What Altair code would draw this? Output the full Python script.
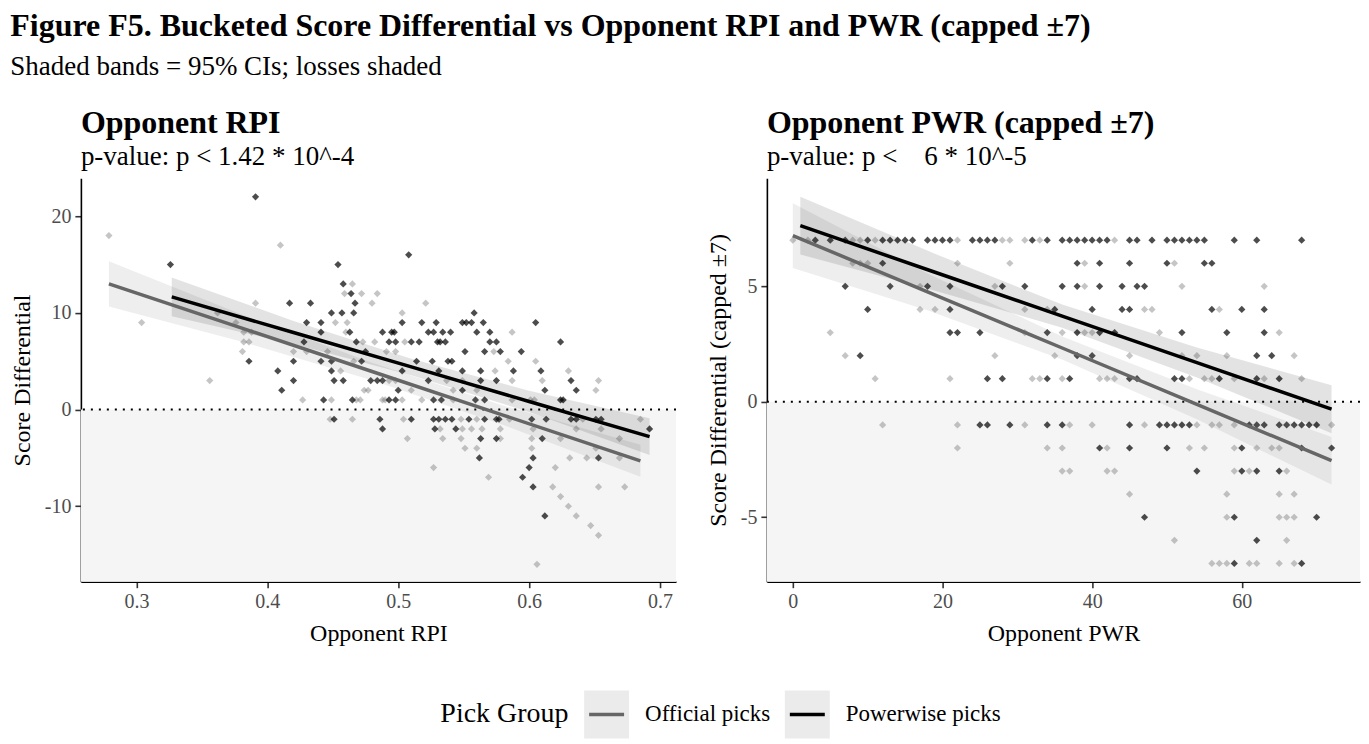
import altair as alt
import pandas as pd

FONT = "Liberation Serif"
GROUPS = ["Official picks", "Powerwise picks"]
LINE_COLORS = ["#666666", "#000000"]

# ---------------- Left panel: Opponent RPI ----------------
rpi_official = [
    (0.279, 18), (0.410, 17), (0.465, 13), (0.459, 12), (0.472, 12), (0.484, 12), (0.480, 11), (0.391, 11),
    (0.521, 11), (0.362, 10), (0.503, 10), (0.304, 9), (0.452, 9), (0.461, 9), (0.376, 9), (0.460, 8),
    (0.382, 8), (0.388, 8), (0.587, 8), (0.382, 7), (0.386, 7), (0.473, 7), (0.482, 7), (0.505, 7),
    (0.381, 6), (0.420, 6), (0.430, 6), (0.446, 6), (0.491, 6), (0.498, 6), (0.573, 6), (0.466, 5),
    (0.584, 5), (0.605, 5), (0.456, 4), (0.574, 4), (0.630, 4), (0.356, 3), (0.493, 3), (0.498, 3),
    (0.537, 3), (0.549, 3), (0.587, 3), (0.610, 3), (0.653, 3), (0.474, 2), (0.477, 2), (0.510, 2),
    (0.542, 2), (0.560, 2), (0.651, 2), (0.427, 1), (0.449, 1), (0.468, 1), (0.471, 1), (0.488, 1),
    (0.490, 1), (0.503, 1), (0.518, 1), (0.542, 1), (0.587, 1), (0.601, 1), (0.604, 1),
    (0.448, -1), (0.465, -1), (0.504, -1), (0.548, -1), (0.560, -1), (0.585, -1), (0.641, -1), (0.685, -1),
    (0.532, -2), (0.549, -2), (0.556, -2), (0.564, -2), (0.578, -2), (0.603, -2), (0.636, -2), (0.655, -2),
    (0.507, -3), (0.534, -3), (0.548, -3), (0.578, -3), (0.602, -3), (0.624, -3), (0.669, -3),
    (0.551, -4), (0.560, -4), (0.602, -4), (0.651, -4), (0.631, -5), (0.644, -5), (0.669, -5),
    (0.527, -6), (0.620, -6), (0.569, -7), (0.618, -8), (0.653, -8), (0.673, -8), (0.624, -9),
    (0.630, -10), (0.636, -11), (0.647, -12), (0.653, -13), (0.606, -16),
]
rpi_powerwise_rows = {
    22: [0.391], 16: [0.508], 15: [0.326, 0.454], 13: [0.458], 12: [0.464], 11: [0.467, 0.417, 0.433],
    10: [0.449, 0.457, 0.466, 0.558],
    9: [0.430, 0.441, 0.503, 0.518, 0.529, 0.549, 0.552, 0.556, 0.565, 0.605],
    8: [0.441, 0.463, 0.488, 0.495, 0.497, 0.523, 0.527, 0.534, 0.540, 0.560, 0.570],
    7: [0.428, 0.468, 0.493, 0.498, 0.510, 0.516, 0.530, 0.532, 0.536, 0.570, 0.575, 0.624],
    6: [0.475, 0.551, 0.566, 0.578, 0.594],
    5: [0.386, 0.420, 0.441, 0.449, 0.472, 0.514, 0.526, 0.538, 0.541],
    4: [0.408, 0.449, 0.503, 0.531, 0.549, 0.563, 0.588, 0.609],
    3: [0.420, 0.451, 0.458, 0.479, 0.484, 0.488, 0.523, 0.563, 0.575, 0.632],
    2: [0.411, 0.500, 0.549, 0.612, 0.636],
    1: [0.443, 0.465, 0.493, 0.498, 0.527, 0.533, 0.559, 0.566, 0.624, 0.626],
    -1: [0.451, 0.486, 0.510, 0.527, 0.531, 0.536, 0.541, 0.554, 0.566, 0.575, 0.577, 0.602, 0.613,
         0.632, 0.636, 0.651, 0.655],
    -2: [0.488, 0.528, 0.544, 0.692], -3: [0.563, 0.575, 0.610], -5: [0.562, 0.603, 0.653],
    -6: [0.600], -7: [0.595], -8: [0.603], -11: [0.612],
}
# fitted lines with 95% CI
rpi_off_x = [0.279, 0.380, 0.480, 0.580, 0.685]
rpi_off_fit = [13.0, 8.45, 3.94, -0.57, -5.3]
rpi_off_lo = [10.65, 7.05, 3.04, -1.57, -6.95]
rpi_off_hi = [15.35, 9.85, 4.84, 0.43, -3.65]
rpi_pw_x = [0.327, 0.420, 0.510, 0.600, 0.692]
rpi_pw_fit = [11.65, 7.97, 4.41, 0.84, -2.8]
rpi_pw_lo = [9.65, 6.77, 3.56, -0.26, -4.7]
rpi_pw_hi = [13.65, 9.17, 5.26, 1.94, -0.9]

# ---------------- Right panel: Opponent PWR (capped) ----------------
pwr_official_rows = {
    7: [0, 2, 8, 9, 11, 22, 28, 29, 31, 33, 43],
    6: [8, 9, 10, 22, 29, 39, 51],
    5: [17, 27, 39, 52, 63],
    4: [17, 19, 31, 34, 47, 48, 57],
    3: [5, 31, 36, 39, 40, 49, 65],
    2: [7, 27, 35, 45, 52, 54, 58, 67],
    1: [11, 21, 32, 33, 36, 41, 42, 43, 53, 55, 56, 59, 63, 68],
    -1: [12, 22, 31, 37, 40, 47, 54, 56, 57, 59, 72],
    -2: [22, 34, 36, 42, 53, 55, 59, 62, 64, 65],
    -3: [36, 37, 42, 43, 59, 61, 66],
    -4: [45, 58, 65, 67],
    -5: [58, 65, 66, 67],
    -6: [51, 66],
    -7: [56, 57, 58, 61, 62, 65, 67],
}
pwr_powerwise_rows = {
    7: [3, 5, 7, 10, 12, 13, 14, 15, 16, 18, 19, 20, 21, 24, 25, 26, 27, 32, 34, 36, 37, 38, 39, 40,
        41, 42, 45, 46, 48, 50, 51, 52, 53, 54, 55, 59, 62, 68],
    6: [12, 38, 41, 45, 50, 55, 56],
    5: [7, 13, 18, 21, 28, 31, 36, 38, 41, 44, 46, 47],
    4: [10, 21, 35, 40, 44, 45, 56, 60, 63],
    3: [21, 22, 25, 34, 38, 41, 43, 52, 58, 63],
    2: [9, 38, 40, 62, 64],
    1: [26, 28, 34, 37, 45, 46, 51, 52, 57, 62, 65],
    -1: [25, 26, 29, 34, 36, 45, 49, 50, 51, 52, 53, 61, 62, 63, 65, 66, 67, 68, 69, 70],
    -2: [41, 45, 50, 60, 68, 72],
    -3: [54, 60, 62, 65],
    -5: [47, 59, 70],
    -6: [62],
    -7: [59, 68],
}
pwr_off_x = [0, 18, 36, 54, 72]
pwr_off_fit = [7.2, 4.76, 2.33, -0.11, -2.55]
pwr_off_lo = [5.8, 3.96, 1.83, -0.76, -3.58]
pwr_off_hi = [8.6, 5.56, 2.83, 0.54, -1.52]
pwr_pw_x = [1, 19, 36, 54, 72]
pwr_pw_fit = [7.63, 5.61, 3.71, 1.70, -0.32]
pwr_pw_lo = [6.38, 4.81, 3.21, 1.05, -1.36]
pwr_pw_hi = [8.88, 6.41, 4.21, 2.35, 0.72]

rpi_x_domain = [0.2576, 0.7122]
rpi_y_domain = [-17.8, 23.92]
pwr_x_domain = [-3.47, 75.8]
pwr_y_domain = [-7.79, 9.68]


def points_df(official_pairs, powerwise_pairs):
    rows = [{"x": x, "y": y, "group": GROUPS[0]} for x, y in official_pairs]
    rows += [{"x": x, "y": y, "group": GROUPS[1]} for x, y in powerwise_pairs]
    return pd.DataFrame(rows)


def rows_to_pairs(rows):
    return [(x, y) for y, xs in rows.items() for x in xs]


def fit_df(off, pw):
    recs = []
    for g, (xs, f, lo, hi) in zip(GROUPS, [off, pw]):
        for i in range(len(xs)):
            recs.append({"x": xs[i], "fit": f[i], "lo": lo[i], "hi": hi[i], "group": g})
    return pd.DataFrame(recs)


color_scale = alt.Scale(domain=GROUPS, range=LINE_COLORS)


def panel(pts, fits, xdom, ydom, xvals, yvals, xtitle, ytitle, title, subtitle, xfmt, legend=False):
    xs = alt.Scale(domain=xdom, nice=False, zero=False)
    ys = alt.Scale(domain=ydom, nice=False, zero=False)
    xax = alt.Axis(values=xvals, title=xtitle, labelExpr=xfmt)
    yax = alt.Axis(values=yvals, title=ytitle, labelExpr="'' + datum.value")

    loss = alt.Chart(pd.DataFrame({"x0": [xdom[0]], "x1": [xdom[1]], "y0": [ydom[0]], "y1": [0]})).mark_rect(
        color="#f5f5f5"
    ).encode(
        x=alt.X("x0:Q", scale=xs, axis=xax), x2="x1:Q",
        y=alt.Y("y0:Q", scale=ys, axis=yax), y2="y1:Q",
    )
    zero = alt.Chart(pd.DataFrame({"z": [0]})).mark_rule(
        color="black", strokeDash=[2, 6], strokeWidth=2
    ).encode(y=alt.Y("z:Q", scale=ys))
    pts_layer = alt.Chart(pts).mark_point(shape="diamond", filled=True, size=52, strokeWidth=0).encode(
        x=alt.X("x:Q", scale=xs),
        y=alt.Y("y:Q", scale=ys),
        color=alt.Color("group:N", scale=color_scale, legend=None),
        opacity=alt.Opacity("group:N", scale=alt.Scale(domain=GROUPS, range=[0.38, 0.7]), legend=None),
    )
    band = alt.Chart(fits).mark_area(opacity=0.11).encode(
        x=alt.X("x:Q", scale=xs),
        y=alt.Y("lo:Q", scale=ys),
        y2="hi:Q",
        fill=alt.Fill("group:N", scale=color_scale, legend=None),
        detail="group:N",
    )
    line = alt.Chart(fits).mark_line(strokeWidth=3.5).encode(
        x=alt.X("x:Q", scale=xs),
        y=alt.Y("fit:Q", scale=ys),
        color=alt.Color("group:N", scale=color_scale, legend=None),
        detail="group:N",
    )
    layers = [loss, zero, pts_layer, band, line]
    if legend:
        ldf = pd.DataFrame({"group": GROUPS, "title": ["Pick Group", "Pick Group"]})
        layers.append(
            alt.Chart(ldf.head(1)).mark_text(align="left", baseline="middle", font=FONT, fontSize=28, color="black")
            .encode(text="title:N", x=alt.value(360), y=alt.value(537))
        )
        for i, (bx, lx) in enumerate([(504, 565), (705, 766)]):
            sub = ldf[ldf["group"] == GROUPS[i]]
            layers.append(
                alt.Chart(sub).mark_rect(color="#ebebeb").encode(
                    x=alt.value(bx), x2=alt.value(bx + 45), y=alt.value(513), y2=alt.value(561)
                )
            )
            layers.append(
                alt.Chart(sub).mark_rule(strokeWidth=3.5, color=LINE_COLORS[i]).encode(
                    x=alt.value(bx + 5), x2=alt.value(bx + 40), y=alt.value(537)
                )
            )
            layers.append(
                alt.Chart(sub).mark_text(align="left", baseline="middle", font=FONT, fontSize=23, color="black")
                .encode(text="group:N", x=alt.value(lx), y=alt.value(537))
            )
    return alt.layer(*layers).properties(
        width=596 if legend else 594,
        height=404,
        title=alt.TitleParams(
            text=title, subtitle=subtitle, anchor="start", frame="group",
            font=FONT, fontSize=32, fontWeight="bold", color="black",
            subtitleFont=FONT, subtitleFontSize=27, subtitleColor="black",
            subtitlePadding=4, offset=7,
        ),
    )


left = panel(
    points_df(rpi_official, rows_to_pairs(rpi_powerwise_rows)),
    fit_df((rpi_off_x, rpi_off_fit, rpi_off_lo, rpi_off_hi), (rpi_pw_x, rpi_pw_fit, rpi_pw_lo, rpi_pw_hi)),
    rpi_x_domain, rpi_y_domain, [0.3, 0.4, 0.5, 0.6, 0.7], [-10, 0, 10, 20],
    "Opponent RPI", "Score Differential", "Opponent RPI", "p-value: p < 1.42 * 10^-4",
    "format(datum.value, '.1f')", legend=True,
)
right = panel(
    points_df(rows_to_pairs(pwr_official_rows), rows_to_pairs(pwr_powerwise_rows)),
    fit_df((pwr_off_x, pwr_off_fit, pwr_off_lo, pwr_off_hi), (pwr_pw_x, pwr_pw_fit, pwr_pw_lo, pwr_pw_hi)),
    pwr_x_domain, pwr_y_domain, [0, 20, 40, 60], [-5, 0, 5],
    "Opponent PWR", "Score Differential (capped \u00b17)", "Opponent PWR (capped \u00b17)",
    "p-value: p <\u00a0\u00a0\u00a0\u00a06 * 10^-5", "'' + datum.value",
)

chart = alt.hconcat(left, right, spacing=91, bounds="flush").properties(
    title=alt.TitleParams(
        text="Figure F5. Bucketed Score Differential vs Opponent RPI and PWR (capped \u00b17)",
        subtitle="Shaded bands = 95% CIs; losses shaded",
        anchor="start", font=FONT, fontSize=32, fontWeight="bold", color="black",
        subtitleFont=FONT, subtitleFontSize=27, subtitleColor="black", subtitlePadding=11, offset=26,
    ),
    padding={"left": 2, "top": 2, "right": 0, "bottom": 0},
).configure_view(stroke=None).configure_axis(
    grid=False, domainColor="black", domainWidth=1.6, tickColor="#333333", tickWidth=1.6, tickSize=6,
    labelFont=FONT, labelFontSize=20, labelColor="#4d4d4d", labelPadding=4,
    titleFont=FONT, titleFontSize=24, titleFontWeight="normal", titleColor="black", titlePadding=10,
)

chart.save("out.html", embed_options={"renderer": "svg", "actions": False})
